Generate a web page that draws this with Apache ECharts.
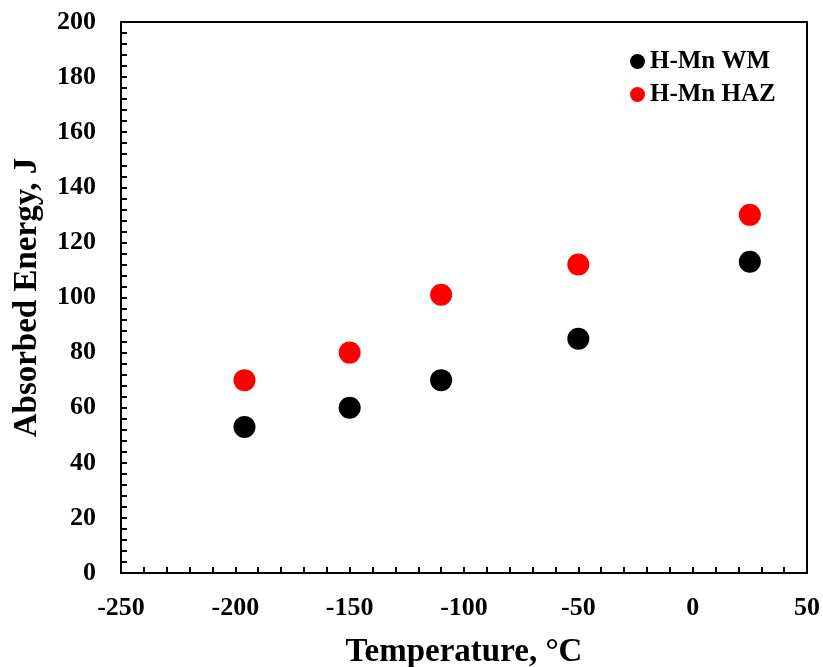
<!DOCTYPE html>
<html>
<head>
<meta charset="utf-8">
<script src="https://cdn.jsdelivr.net/npm/echarts@6/dist/echarts.min.js"></script>
<style>
  html, body { margin: 0; padding: 0; background: #fff; }
  #chart { width: 823px; height: 667px; }
</style>
</head>
<body>
<div id="chart"></div>
<script>
// data
const temperatures = [-196, -150, -110, -50, 25]
const wmEnergy = [53, 60, 70, 85, 113]
const hazEnergy = [70, 80, 101, 112, 130]
const seriesNames = ['H-Mn WM', 'H-Mn HAZ']

const font = 'Liberation Serif, Times New Roman, serif'
const chart = echarts.init(document.getElementById('chart'))

const toPoints = vals => temperatures.map((t, i) => [t, vals[i]])

chart.setOption({
  animation: false,
  grid: {
    left: 121, right: 16, top: 22, bottom: 94,
    outerBoundsMode: 'none',
    show: true, borderColor: '#000', borderWidth: 2, backgroundColor: 'transparent'
  },
  legend: {
    orient: 'vertical',
    left: 625, top: 44,
    itemGap: 8,
    itemWidth: 15, itemHeight: 15,
    icon: 'circle',
    data: seriesNames,
    textStyle: { fontFamily: font, fontWeight: 'bold', fontSize: 25, color: '#000' }
  },
  xAxis: {
    type: 'value',
    min: -250, max: 50, interval: 50,
    name: 'Temperature, \u00B0C',
    nameLocation: 'middle',
    nameGap: 63,
    nameTextStyle: { fontFamily: font, fontWeight: 'bold', fontSize: 33, color: '#000' },
    axisLine: { onZero: false, lineStyle: { color: '#000', width: 2 } },
    axisTick: { inside: true, length: 6, lineStyle: { color: '#000', width: 2 } },
    minorTick: { show: true, splitNumber: 5, length: 6, lineStyle: { color: '#000', width: 2 } },
    splitLine: { show: false },
    axisLabel: { margin: 22, fontFamily: font, fontWeight: 'bold', fontSize: 26, color: '#000' }
  },
  yAxis: {
    type: 'value',
    min: 0, max: 200, interval: 20,
    name: 'Absorbed Energy, J',
    nameLocation: 'middle',
    nameGap: 77,
    nameTextStyle: { fontFamily: font, fontWeight: 'bold', fontSize: 33, color: '#000' },
    axisLine: { onZero: false, lineStyle: { color: '#000', width: 2 } },
    axisTick: { inside: true, length: 6, lineStyle: { color: '#000', width: 2 } },
    minorTick: { show: true, splitNumber: 5, length: 6, lineStyle: { color: '#000', width: 2 } },
    splitLine: { show: false },
    axisLabel: { margin: 25, fontFamily: font, fontWeight: 'bold', fontSize: 26, color: '#000' }
  },
  series: [
    {
      name: seriesNames[0],
      type: 'scatter',
      symbolSize: 22,
      itemStyle: { color: '#000', opacity: 1 },
      data: toPoints(wmEnergy)
    },
    {
      name: seriesNames[1],
      type: 'scatter',
      symbolSize: 22,
      itemStyle: { color: '#ff0000', opacity: 1 },
      data: toPoints(hazEnergy)
    }
  ]
})
</script>
</body>
</html>
